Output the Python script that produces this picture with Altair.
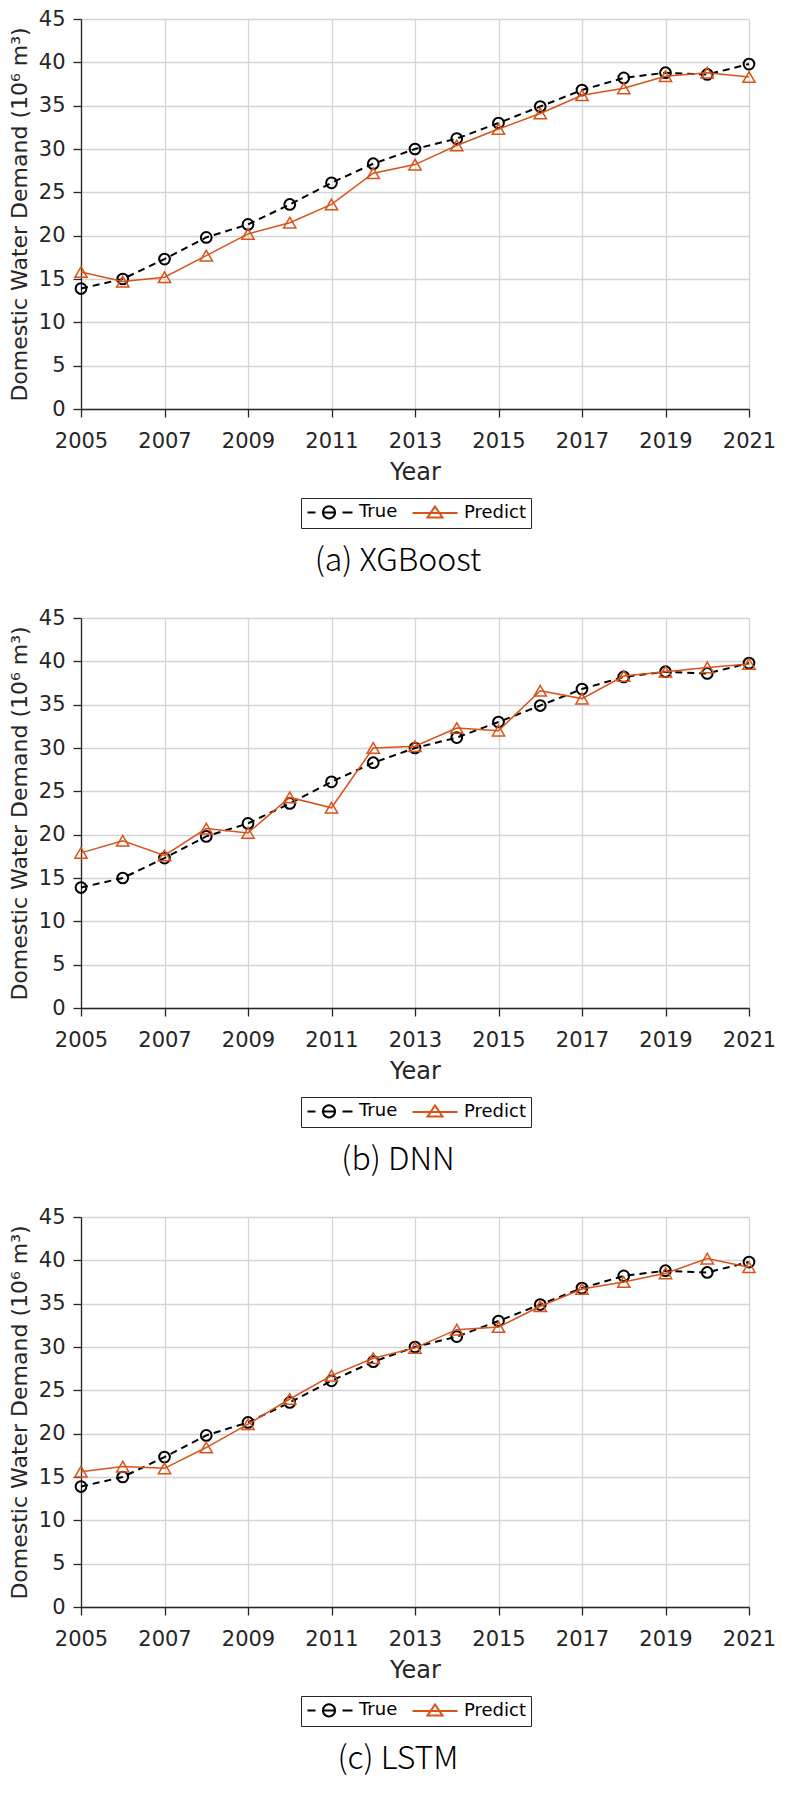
import altair as alt
import pandas as pd

years = list(range(2005, 2022))
true_vals = [13.9, 15.0, 17.3, 19.8, 21.3, 23.6, 26.1, 28.3, 30.0, 31.2, 33.0, 34.9, 36.8, 38.2, 38.8, 38.6, 39.8]
xgb_pred = [15.8, 14.7, 15.2, 17.7, 20.2, 21.5, 23.6, 27.2, 28.2, 30.4, 32.3, 34.1, 36.2, 37.0, 38.4, 38.8, 38.3]
dnn_pred = [17.9, 19.3, 17.6, 20.7, 20.2, 24.3, 23.1, 30.0, 30.2, 32.3, 32.0, 36.6, 35.7, 38.3, 38.8, 39.3, 39.7]
lstm_pred = [15.6, 16.2, 16.0, 18.4, 21.1, 24.0, 26.7, 28.7, 29.9, 32.0, 32.3, 34.7, 36.7, 37.5, 38.5, 40.2, 39.2]
captions = ["(a) XGBoost", "(b) DNN", "(c) LSTM"]
series_names = ["True", "Predict"]
x_ticks = [2005, 2007, 2009, 2011, 2013, 2015, 2017, 2019, 2021]
y_ticks = [0, 5, 10, 15, 20, 25, 30, 35, 40, 45]

ORANGE = "#D95319"
AXC = "#262626"

# legend glyphs: drawn in px relative to entry's left edge, converted to symbol units
SYM_SIZE = 169          # sqrt -> 13 px, scale 6.5 px per unit
SYM_UNIT = 6.5
SYM_CENTER = 7.5        # ceil(13 + stroke 2) / 2


def u(px):
    return round((px - SYM_CENTER) / SYM_UNIT, 4)


def v(py):
    return round(py / SYM_UNIT, 4)


r = 6.0
cx = 21.5
TRUE_PATH = (
    f"M{u(0)},0L{u(8)},0"
    f"M{u(cx - r)},0A{v(r)},{v(r)},0,1,1,{u(cx + r)},0A{v(r)},{v(r)},0,1,1,{u(cx - r)},0"
    f"M{u(cx - r)},0L{u(cx + r)},0"
    f"M{u(35)},0L{u(45)},0"
)
tc = 22.5
PRED_PATH = (
    f"M{u(0)},0L{u(45)},0"
    f"M{u(tc)},{v(-6.5)}L{u(tc - 7.5)},{v(4.5)}L{u(tc + 7.5)},{v(4.5)}Z"
)


def make_legend():
    return alt.Legend(orient="none", legendX=220, legendY=479,
                      direction="horizontal", title=None,
                      strokeColor=AXC, padding=5, labelOffset=35,
                      columnPadding=10, symbolSize=SYM_SIZE,
                      symbolStrokeWidth=2, symbolOpacity=1,
                      labelFont="DejaVu Sans", labelFontSize=18,
                      labelColor="black")


def panel(pred, caption):
    df = pd.DataFrame({
        "Year": years + years,
        "Value": true_vals + pred,
        "Series": ["True"] * len(years) + ["Predict"] * len(years),
    })
    x = alt.X("Year:Q", scale=alt.Scale(domain=[2005, 2021], nice=False),
              axis=alt.Axis(values=x_ticks, format="d", title="Year", labelPadding=13,
                            labelFlush=False, titlePadding=9, titleFontSize=24))
    y = alt.Y("Value:Q", scale=alt.Scale(domain=[0, 45], nice=False),
              axis=alt.Axis(values=y_ticks, title="Domestic Water Demand (10⁶ m³)",
                            labelPadding=8, titlePadding=7, titleFontSize=22))
    base = alt.Chart(df)
    t = base.transform_filter(alt.datum.Series == "True")
    p = base.transform_filter(alt.datum.Series == "Predict")
    true_line = t.mark_line(color="black", strokeWidth=2, strokeDash=[7, 5]).encode(x=x, y=y)
    true_pts = t.mark_point(shape="circle", filled=False, color="black", strokeWidth=2,
                            size=115, opacity=1).encode(x=x, y=y)
    pred_line = p.mark_line(color=ORANGE, strokeWidth=1.5).encode(x=x, y=y)
    pred_pts = p.mark_point(shape="triangle-up", filled=False, color=ORANGE, strokeWidth=1.5,
                            size=150, opacity=1).encode(x=x, y=y)
    legend_layer = base.mark_point(filled=False).encode(
        x=x, y=y,
        color=alt.Color("Series:N", scale=alt.Scale(domain=series_names, range=["black", ORANGE]),
                        legend=make_legend()),
        shape=alt.Shape("Series:N", scale=alt.Scale(domain=series_names, range=[TRUE_PATH, PRED_PATH]),
                        legend=make_legend()),
        opacity=alt.value(0),
    )
    return alt.layer(true_line, true_pts, pred_line, pred_pts, legend_layer).properties(
        width=668, height=390,
        title=alt.TitleParams(text=caption, orient="bottom", anchor="middle", frame="group",
                              font="Noto Sans CJK KR", fontSize=32, fontWeight=300,
                              color="black", offset=17, dx=-17),
    )


chart = alt.vconcat(
    panel(xgb_pred, captions[0]),
    panel(dnn_pred, captions[1]),
    panel(lstm_pred, captions[2]),
    spacing=30,
).resolve_scale(color="independent", shape="independent").resolve_legend(
    color="independent", shape="independent"
).properties(
    padding={"left": 0, "top": 0, "right": 0, "bottom": 8}
).configure_view(stroke=None).configure_axis(
    domainColor=AXC, domainWidth=1.3, tickColor=AXC, tickWidth=1.3, tickSize=8,
    labelFont="DejaVu Sans", labelFontSize=21, labelColor=AXC,
    titleFont="DejaVu Sans", titleFontWeight="normal", titleColor=AXC,
    gridColor="#d4d4d4", gridWidth=1.3,
)

chart.save("out.html", embed_options={"renderer": "svg", "actions": False})
